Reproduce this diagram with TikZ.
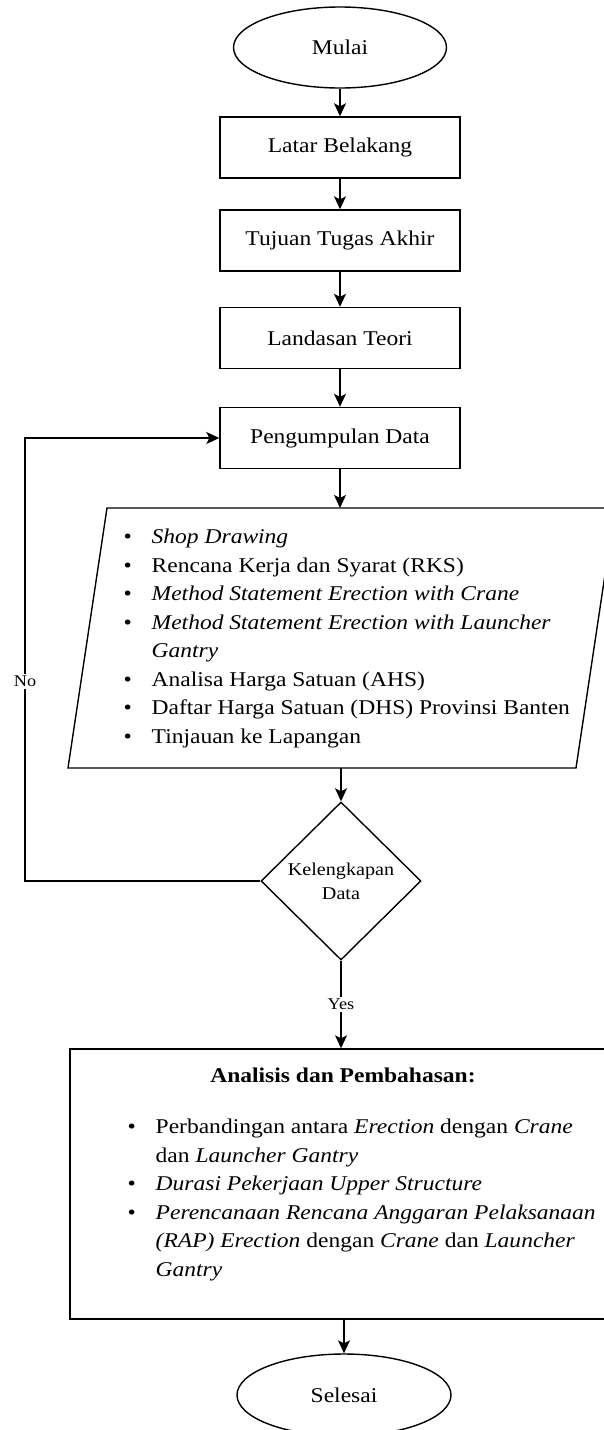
\documentclass[tikz,border=0pt]{standalone}
\usepackage{fontspec}
\setmainfont{Liberation Serif}[FakeStretch=1.12]
\usetikzlibrary{shapes.geometric,arrows.meta}
\begin{document}
\begin{tikzpicture}[x=1pt,y=-1pt,line width=1.4pt,
    every node/.style={font=\fontsize{21}{28.5}\selectfont},
    kotak/.style={draw,rectangle,minimum width=240pt,minimum height=61pt,inner sep=0pt},
    terminal/.style={draw,ellipse,minimum width=213pt,minimum height=81pt,inner sep=0pt},
    keputusan/.style={draw,diamond,minimum width=160pt,minimum height=158pt,inner sep=0pt,
      align=center,font=\fontsize{18}{24}\selectfont},
    ket/.style={fill=white,inner sep=2pt,font=\fontsize{16.3}{18}\selectfont},
    panah/.style={-{Stealth[length=13pt,width=12pt,inset=3pt]}}]
  \useasboundingbox (0,0) rectangle (604,1430);
  \node[terminal] (mulai) at (340,47.5) {Mulai};
  \node[kotak] (latar) at (340,147.5) {Latar Belakang};
  \node[kotak] (tujuan) at (340,240.5) {Tujuan Tugas Akhir};
  \node[kotak] (teori) at (340,338) {Landasan Teori};
  \node[kotak] (kumpul) at (340,438) {Pengumpulan Data};
  \draw (107,508) -- (615,508) -- (576,768) -- (68,768) -- cycle;
  \coordinate (dataN) at (340,508);
  \coordinate (dataS) at (341,768);
  \node[anchor=west,inner sep=0pt] (data) at (123,638) {%
    \begin{tabular}{@{}p{28pt}@{}l@{}}
      \textbullet & \textit{Shop Drawing}\\
      \textbullet & Rencana Kerja dan Syarat (RKS)\\
      \textbullet & \textit{Method Statement Erection with Crane}\\
      \textbullet & \textit{Method Statement Erection with Launcher}\\
                  & \textit{Gantry}\\
      \textbullet & Analisa Harga Satuan (AHS)\\
      \textbullet & Daftar Harga Satuan (DHS) Provinsi Banten\\
      \textbullet & Tinjauan ke Lapangan
    \end{tabular}};
  \node[keputusan] (cek) at (341,881) {Kelengkapan\\Data};
  \node[kotak,minimum width=550pt,minimum height=270pt] (hasil) at (345,1184) {};
  \node (judul) at (343,1075) {\textbf{Analisis dan Pembahasan:}};
  \node[anchor=west,inner sep=0pt] (butir) at (127,1199.5) {%
    \begin{tabular}{@{}p{28pt}@{}l@{}}
      \textbullet & Perbandingan antara \textit{Erection} dengan \textit{Crane}\\
                  & dan \textit{Launcher Gantry}\\
      \textbullet & \textit{Durasi Pekerjaan Upper Structure}\\
      \textbullet & \textit{Perencanaan Rencana Anggaran Pelaksanaan}\\
                  & \textit{(RAP) Erection} dengan \textit{Crane} dan \textit{Launcher}\\
                  & \textit{Gantry}
    \end{tabular}};
  \node[terminal,minimum width=214pt,minimum height=82pt] (selesai) at (344,1395) {Selesai};
  \draw[panah] (mulai) -- (latar);
  \draw[panah] (latar) -- (tujuan);
  \draw[panah] (tujuan) -- (teori);
  \draw[panah] (teori) -- (kumpul);
  \draw[panah] (kumpul) -- (dataN);
  \draw[panah] (dataS) -- (cek);
  \draw[panah] (cek) -- node[ket] {Yes} (cek |- hasil.north);
  \draw[panah] (hasil.south -| selesai) -- (selesai);
  \draw[panah] (cek.west) -- (25,881) -- node[ket,pos=0.45] {No} (25,438) -- (kumpul.west);
\end{tikzpicture}
\end{document}
